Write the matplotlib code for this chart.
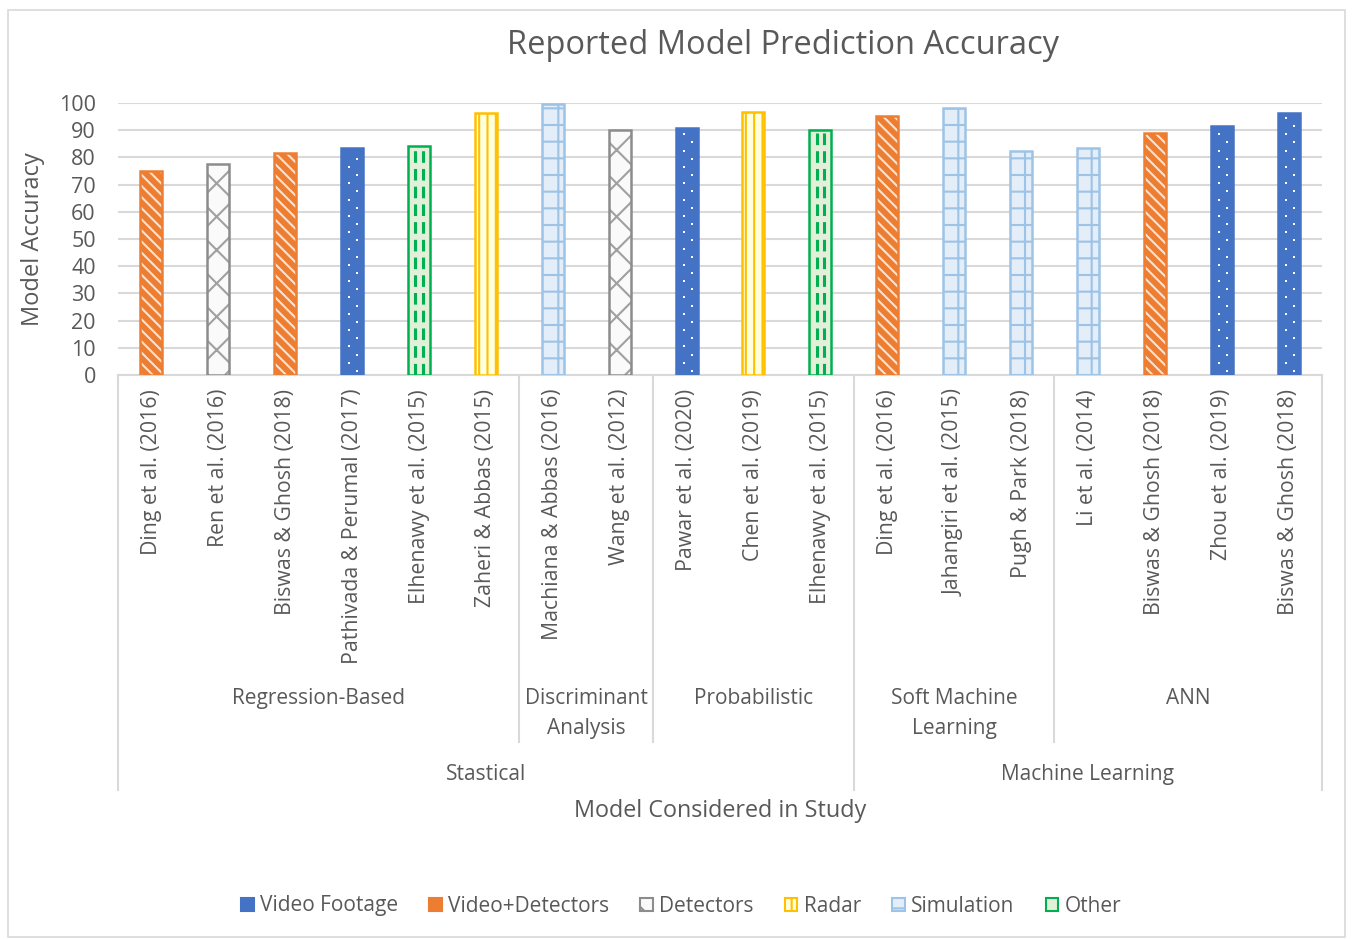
import matplotlib
matplotlib.use("Agg")
import matplotlib.pyplot as plt
from matplotlib.patches import Patch, Rectangle
import matplotlib.transforms as mtransforms
import numpy as np

plt.rcParams['font.family'] = ['Open Sans', 'DejaVu Sans']
plt.rcParams['hatch.linewidth'] = 1.5

# ---------------- data ----------------
labels = ["Ding et al. (2016)", "Ren et al. (2016)", "Biswas & Ghosh (2018)",
          "Pathivada & Perumal (2017)", "Elhenawy et al. (2015)", "Zaheri & Abbas (2015)",
          "Machiana & Abbas (2016)", "Wang et al. (2012)",
          "Pawar et al. (2020)", "Chen et al. (2019)", "Elhenawy et al. (2015)",
          "Ding et al. (2016)", "Jahangiri et al. (2015)", "Pugh & Park (2018)",
          "Li et al. (2014)", "Biswas & Ghosh (2018)", "Zhou et al. (2019)", "Biswas & Ghosh (2018)"]
values = [75, 77.5, 81.5, 83.5, 84.2, 96.3,
          99.6, 90,
          90.8, 96.7, 90,
          95.2, 98.2, 82.4,
          83.5, 89, 91.5, 96.3]
sources = ["Video+Detectors", "Detectors", "Video+Detectors", "Video Footage", "Other", "Radar",
           "Simulation", "Detectors",
           "Video Footage", "Radar", "Other",
           "Video+Detectors", "Simulation", "Simulation",
           "Simulation", "Video+Detectors", "Video Footage", "Video Footage"]
sub_groups = ["Regression-Based", "Discriminant\nAnalysis", "Probabilistic",
              "Soft Machine\nLearning", "ANN"]
sub_sizes = [6, 2, 3, 3, 4]
top_groups = ["Stastical", "Machine Learning"]
top_sizes = [11, 7]
legend_order = ["Video Footage", "Video+Detectors", "Detectors", "Radar", "Simulation", "Other"]

# ---------------- styles ----------------
styles = {
    "Video Footage":   dict(face="#4472C4", hatch=None, hcol="#FFFFFF", edge="#4472C4"),
    "Video+Detectors": dict(face="#ED7D31", hatch="\\\\\\", hcol="#FBE2D0", edge="#ED7D31"),
    "Detectors":       dict(face="#FAFAFA", hatch="x", hcol="#A0A0A0", edge="#8C8C8C"),
    "Radar":           dict(face="#FFFFDD", hatch="||", hcol="#FFC000", edge="#FFC000"),
    "Simulation":      dict(face="#E3EEF9", hatch="+", hcol="#9DC3E6", edge="#9DC3E6"),
    "Other":           dict(face="#E2F0D9", hatch=None, hcol="#00B050", edge="#00B050"),
}

W, H = 1352, 939
fig = plt.figure(figsize=(W / 100, H / 100), dpi=100)
ax_l, ax_r, ax_t, ax_b = 118, 1322, 103, 375
ax = fig.add_axes([ax_l / W, 1 - ax_b / H, (ax_r - ax_l) / W, (ax_b - ax_t) / H])

txt = "#595959"
grid = "#D9D9D9"
x = np.arange(len(values))
bw = 0.33

for src in legend_order:
    st = styles[src]
    idx = [i for i, s in enumerate(sources) if s == src]
    xs = x[idx]
    vs = [values[i] for i in idx]
    ax.bar(xs, vs, width=bw, color=st["face"], hatch=st["hatch"], edgecolor=st["hcol"],
           linewidth=0, zorder=3)
    ax.bar(xs, vs, width=bw, facecolor="none", edgecolor=st["edge"], linewidth=1.8, zorder=4)
    if src == "Other":
        for xi, vi in zip(xs, vs):
            for off in (-bw / 6, bw / 6):
                ax.plot([xi + off, xi + off], [0, vi], color=st["hcol"], lw=2.2,
                        dashes=(3.8, 2.0), dash_capstyle="butt", zorder=4)
    if src == "Video Footage":
        # sparse white dot fill pattern inside the bars
        for xi, vi in zip(xs, vs):
            rows = np.arange(1.5, vi - 1, 3.0)
            offs = np.where(np.arange(len(rows)) % 2 == 0, 0.08, -0.04)
            ax.scatter(xi + offs, rows, marker="s", s=2.6, color="white", linewidths=0,
                       zorder=5)

ax.set_xlim(-0.5, len(values) - 0.5)
ax.set_ylim(0, 100)
ax.set_yticks(np.arange(0, 101, 10))
ax.yaxis.grid(True, color=grid, lw=1.5, zorder=0)
ax.set_axisbelow(True)
for s in ["left", "right", "top"]:
    ax.spines[s].set_visible(False)
ax.spines["bottom"].set_color(grid)
ax.spines["bottom"].set_linewidth(1.5)
ax.tick_params(axis="y", length=0, pad=16, labelsize=15.5, labelcolor=txt)
ax.tick_params(axis="x", length=0, pad=10, labelsize=15.3, labelcolor=txt)
ax.set_xticks(x)
ax.set_xticklabels(labels, rotation=90)
ax.set_ylabel("Model Accuracy", fontsize=17, color=txt, labelpad=10)

# group separators and labels (axes y in pixel offsets below axis)
ah = ax_b - ax_t
def ay(py):
    return (ax_b - py) / ah

trans = mtransforms.blended_transform_factory(ax.transData, ax.transAxes)
bounds = np.concatenate([[0], np.cumsum(sub_sizes)]) - 0.5
top_bounds = np.concatenate([[0], np.cumsum(top_sizes)]) - 0.5
for b in bounds:
    bottom = 790 if b in top_bounds else 742
    ax.plot([b, b], [0, ay(bottom)], transform=trans, color=grid, lw=1.5, clip_on=False)
for i, g in enumerate(sub_groups):
    c = (bounds[i] + bounds[i + 1]) / 2
    ax.text(c, ay(688), g, transform=trans, ha="center", va="top", fontsize=15,
            color=txt, linespacing=1.55)
for i, g in enumerate(top_groups):
    c = (top_bounds[i] + top_bounds[i + 1]) / 2
    ax.text(c, ay(774), g, transform=trans, ha="center", va="center", fontsize=15, color=txt)

fig.text((ax_l + ax_r) / 2 / W, 1 - 811 / H, "Model Considered in Study", ha="center",
         va="center", fontsize=16.8, color=txt)
fig.text(783 / W, 1 - 45 / H, "Reported Model Prediction Accuracy", ha="center", va="center",
         fontsize=23.5, color=txt)

# legend
handles = []
for src in legend_order:
    st = styles[src]
    handles.append(Patch(facecolor=st["face"], edgecolor=st["edge"],
                         hatch=None if src in ("Video Footage", "Other") else st["hatch"][:1],
                         linewidth=1.5, label=src))
leg = fig.legend(handles=handles, loc="center", bbox_to_anchor=(681 / W, 1 - 906 / H), ncol=6,
                 frameon=False, fontsize=15, handlelength=0.6, handleheight=0.6,
                 handletextpad=0.3, columnspacing=1.5, labelcolor=txt)

# chart border
fig.add_artist(Rectangle((8 / W, 2 / H), (1345 - 8) / W, (929 - 2) / H, transform=fig.transFigure,
                         fill=False, edgecolor=grid, lw=1.2))

fig.savefig("out.png", dpi=100)
